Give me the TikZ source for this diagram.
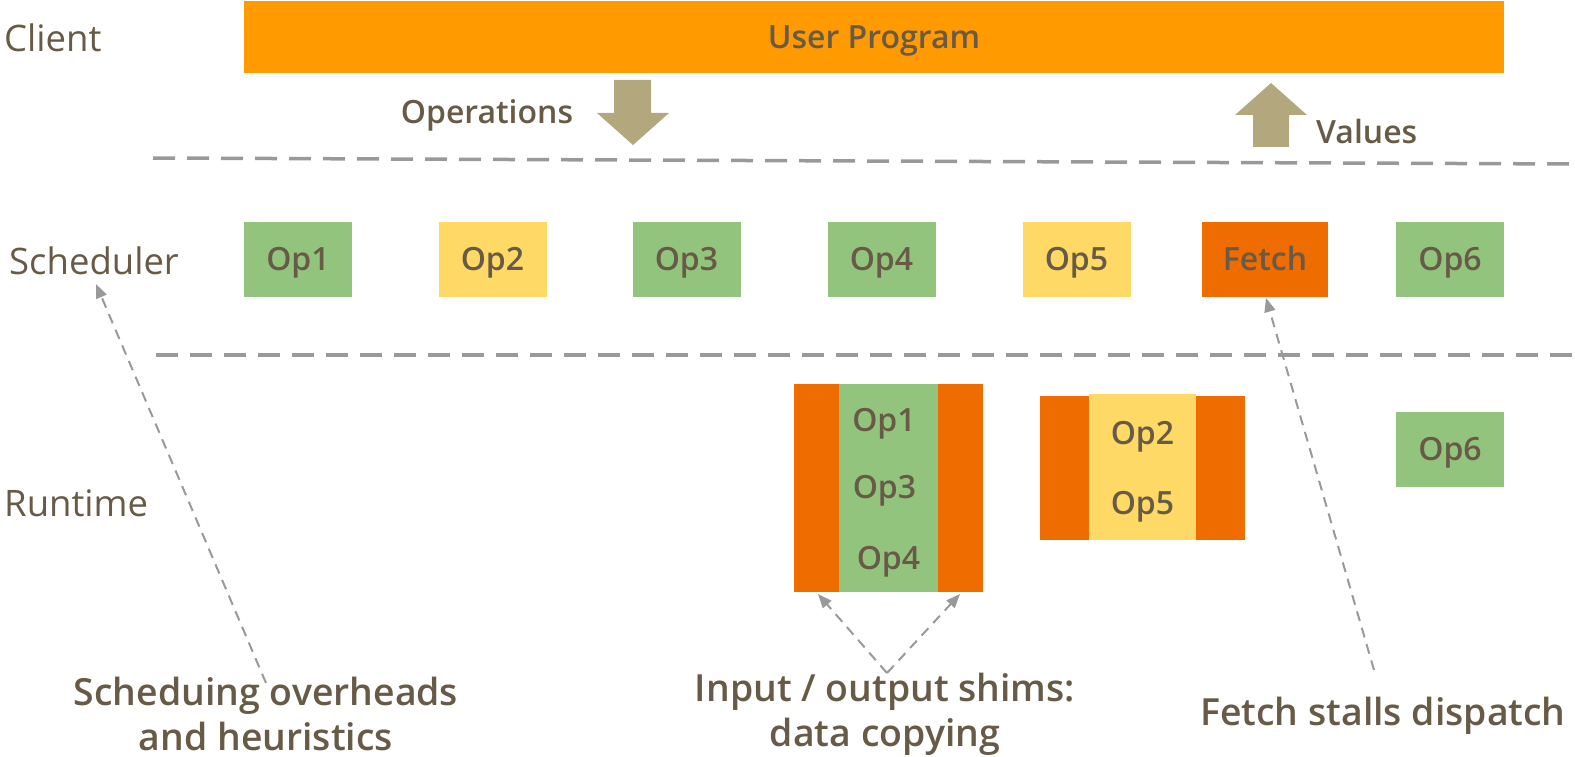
\documentclass[tikz,border=0pt]{standalone}
\usepackage{fontspec}
\IfFontExistsTF{Open Sans Semibold}{%
  \setmainfont{Open Sans}[BoldFont={Open Sans Semibold}]}{%
  \IfFontExistsTF{OpenSans-Semibold}{%
    \setmainfont{Open Sans}[BoldFont={OpenSans-Semibold}]}{%
    \setmainfont{Open Sans}}}
\usetikzlibrary{arrows.meta}
\definecolor{txt}{HTML}{675A46}
\definecolor{barorange}{HTML}{FF9A00}
\definecolor{opgreen}{HTML}{93C47D}
\definecolor{opyellow}{HTML}{FFD966}
\definecolor{oporange}{HTML}{EE6C00}
\definecolor{tan}{HTML}{B3A77D}
\definecolor{dgrey}{HTML}{999999}
\tikzset{
  lbl/.style={text=txt, font=\fontsize{36.5}{42}\selectfont, inner sep=0pt},
  blbl/.style={text=txt, font=\bfseries\fontsize{32}{36}\selectfont, inner sep=0pt, text height=22.8pt, text depth=0pt},
  foot/.style={text=txt, font=\bfseries\fontsize{37.4}{45}\selectfont, inner sep=0pt, align=center},
  optext/.style={text=txt, font=\bfseries\fontsize{32}{36}\selectfont, inner sep=0pt, text height=22.8pt, text depth=0pt},
  opbox/.style={optext, minimum width=108pt, minimum height=75pt},
  sep/.style={draw=dgrey, line width=3.5pt, dash pattern=on 22pt off 12pt},
  ptr/.style={draw=dgrey, line width=2pt, dash pattern=on 10pt off 7pt, -{Triangle[length=14pt,width=11pt]}},
}
\begin{document}
\begin{tikzpicture}[x=1pt,y=-1pt]
\useasboundingbox (0,0) rectangle (1575,757);
% client
\node[lbl, anchor=west] (client) at (4,38) {Client};
\node[optext, fill=barorange, minimum width=1260pt, minimum height=72pt] (user) at (874,37) {User Program};
\node[blbl] (ops) at (487,112) {Operations};
\fill[tan] (614,80) -- (651,80) -- (651,113) -- (669,113) -- (633,145) -- (597,113) -- (614,113) -- cycle;
\fill[tan] (1253,147) -- (1289,147) -- (1289,115) -- (1307,115) -- (1271,83) -- (1235,115) -- (1253,115) -- cycle;
\node[blbl, anchor=west] (vals) at (1316,132) {Values};
% separators
\coordinate (d1a) at (153,158); \coordinate (d1b) at (1575,164);
\coordinate (d2a) at (156,355); \coordinate (d2b) at (1575,355);
\draw[sep] (d1a) -- (d1b);
\draw[sep] (d2a) -- (d2b);
% scheduler
\node[lbl, anchor=west] (sched) at (9,261) {Scheduler};
\node[opbox, fill=opgreen] (s1) at (298,259.5) {Op1};
\node[opbox, fill=opyellow] (s2) at (492.5,259.5) {Op2};
\node[opbox, fill=opgreen] (s3) at (686.5,259.5) {Op3};
\node[opbox, fill=opgreen] (s4) at (881.5,259.5) {Op4};
\node[opbox, fill=opyellow] (s5) at (1076.5,259.5) {Op5};
\node[opbox, fill=oporange, minimum width=126pt] (sf) at (1265,259.5) {Fetch};
\node[opbox, fill=opgreen] (s6) at (1450,259.5) {Op6};
% runtime
\node[lbl, anchor=west] (rt) at (4,503) {Runtime};
\fill[oporange] (794,384) rectangle (983,592);
\fill[opgreen] (839,384) rectangle (938,592);
\coordinate (g1l) at (818,594);
\coordinate (g1r) at (960,594);
\node[optext] (r1) at (884,420) {Op1};
\node[optext] (r3) at (884.5,487.5) {Op3};
\node[optext] (r4) at (888.5,558) {Op4};
\fill[oporange] (1040,396) rectangle (1245,540);
\fill[opyellow] (1089,394) rectangle (1196,540);
\node[optext] (r2) at (1142.5,433) {Op2};
\node[optext] (r5) at (1142.5,503.5) {Op5};
\node[opbox, fill=opgreen] (r6) at (1450,449.5) {Op6};
% footnotes
\node[foot] (f1) at (266,714) {Scheduing overheads\\and heuristics};
\node[foot] (f2) at (885,714) {Input / output shims:\\data copying};
\node[foot, text height=26.7pt, text depth=0pt] (f3) at (1383,712) {Fetch stalls dispatch};
% pointers
\coordinate (p1) at (266,683);
\coordinate (p1t) at (96,284);
\draw[ptr] (p1) -- (p1t);
\coordinate (p2) at (887,673);
\draw[ptr] (p2) -- (g1l);
\draw[ptr] (p2) -- (g1r);
\coordinate (p3) at (1374,670);
\coordinate (p3t) at (1266,298);
\draw[ptr] (p3) -- (p3t);
\end{tikzpicture}
\end{document}
